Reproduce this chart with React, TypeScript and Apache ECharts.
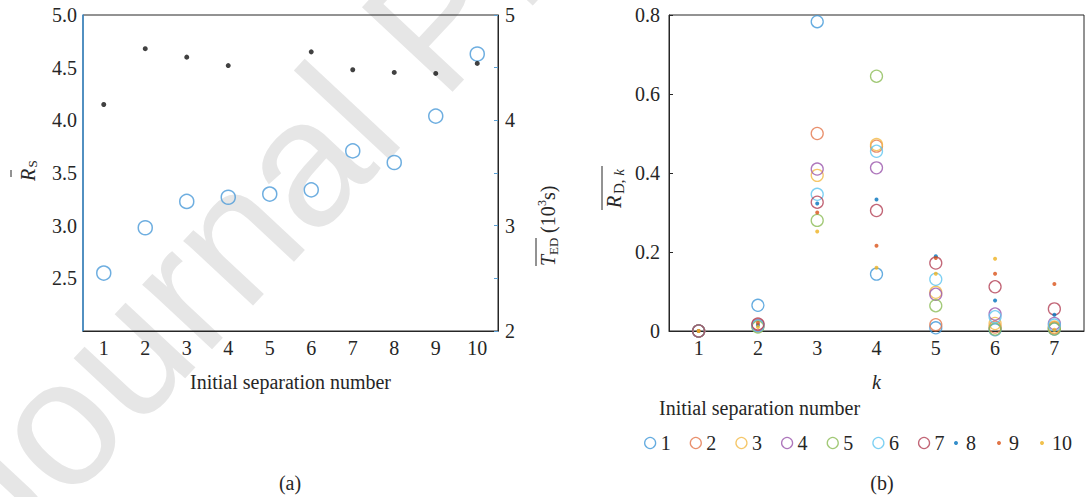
import React, { useEffect, useRef } from 'react';
import * as echarts from 'echarts';

const FONT = "'Liberation Serif', 'Times New Roman', serif";
const TXT = '#262626';

// Panel (a)
const sepNumbers = ['1', '2', '3', '4', '5', '6', '7', '8', '9', '10'];
const meanRS = [2.55, 2.98, 3.23, 3.27, 3.3, 3.34, 3.71, 3.6, 4.04, 4.63];
const meanTED = [4.15, 4.68, 4.6, 4.52, null, 4.65, 4.48, 4.455, 4.445, 4.54];
const rsTicks = [2.0, 2.5, 3.0, 3.5, 4.0, 4.5, 5.0];

// Panel (b)
const kLabels = ['1', '2', '3', '4', '5', '6', '7'];
const rdk1 = [0, 0.065, 0.783, 0.144, 0.008, 0.003, 0.005];
const rdk2 = [0, 0.016, 0.5, 0.468, 0.016, 0.01, 0.008];
const rdk3 = [0, 0.012, 0.394, 0.472, 0.098, 0.019, 0.01];
const rdk4 = [0, 0.014, 0.41, 0.413, 0.093, 0.043, 0.019];
const rdk5 = [0, 0.01, 0.28, 0.645, 0.064, 0.005, 0.005];
const rdk6 = [0, 0.013, 0.346, 0.455, 0.131, 0.036, 0.015];
const rdk7 = [0, 0.018, 0.326, 0.305, 0.172, 0.112, 0.056];
const rdk8 = [0, 0.015, 0.323, 0.333, 0.189, 0.077, 0.041];
const rdk9 = [0, 0.02, 0.3, 0.216, 0.185, 0.145, 0.119];
const rdk10 = [0, 0.01, 0.252, 0.16, 0.145, 0.183, 0.003];
const rdkAll = [rdk1, rdk2, rdk3, rdk4, rdk5, rdk6, rdk7, rdk8, rdk9, rdk10];
const separationNames = ['1', '2', '3', '4', '5', '6', '7', '8', '9', '10'];
const separationColors = [
  '#3f97d8', '#e4754a', '#f2b945', '#9a55ab', '#8bbb55',
  '#5cc4f0', '#b34055', '#0072BD', '#D95319', '#EDB120',
];

export default function App() {
  const ref = useRef<HTMLDivElement>(null);
  useEffect(() => {
    const chart = echarts.init(ref.current!, null, { renderer: 'svg' });
    const labelStyle = { fontSize: 20, color: TXT, fontFamily: FONT };
    const isRing = (i: number) => i < 7;
    const wmAngle = (47 * Math.PI) / 180;

    const option: any = {
      animation: false,
      backgroundColor: '#fff',
      textStyle: { fontFamily: FONT },
      grid: [
        { left: 83, top: 15, width: 415, height: 316, show: true, borderColor: TXT, borderWidth: 1, backgroundColor: 'transparent' },
        { left: 669, top: 15, width: 415, height: 316, show: true, borderColor: TXT, borderWidth: 1, backgroundColor: 'transparent' },
      ],
      xAxis: [
        {
          type: 'category', gridIndex: 0, data: sepNumbers, boundaryGap: true,
          axisLine: { lineStyle: { color: TXT, width: 1 } },
          axisTick: { inside: true, alignWithLabel: true, length: 4, lineStyle: { color: TXT } },
          axisLabel: { ...labelStyle, margin: 7 },
          name: 'Initial separation number', nameLocation: 'middle', nameGap: 41,
          nameTextStyle: { ...labelStyle },
        },
        {
          type: 'category', gridIndex: 1, data: kLabels, boundaryGap: true,
          axisLine: { lineStyle: { color: TXT, width: 1 } },
          axisTick: { inside: true, alignWithLabel: true, length: 4, lineStyle: { color: TXT } },
          axisLabel: { ...labelStyle, margin: 7 },
          name: 'k', nameLocation: 'middle', nameGap: 41,
          nameTextStyle: { ...labelStyle, fontStyle: 'italic' },
        },
      ],
      yAxis: [
        {
          type: 'value', gridIndex: 0, position: 'left', min: rsTicks[0], max: rsTicks[rsTicks.length - 1], interval: 0.5,
          axisLine: { show: true, lineStyle: { color: '#3d8fd1', width: 1.5 } },
          axisTick: { show: false }, splitLine: { show: false },
          axisLabel: { ...labelStyle, margin: 6, formatter: (v: number) => (v === rsTicks[0] ? '' : v.toFixed(1)) },
        },
        {
          type: 'value', gridIndex: 0, position: 'right', min: 2, max: 5, interval: 0.5,
          axisLine: { show: true, lineStyle: { color: TXT, width: 1 } },
          axisTick: { show: true, inside: true, length: 4, lineStyle: { color: '#5a9fd4' } },
          splitLine: { show: false },
          axisLabel: { ...labelStyle, margin: 7, formatter: (v: number) => (Number.isInteger(v) ? String(v) : '') },
        },
        {
          type: 'value', gridIndex: 1, min: 0, max: 0.8, interval: 0.2,
          axisLine: { show: true, lineStyle: { color: TXT, width: 1 } },
          axisTick: { show: true, inside: true, length: 4, lineStyle: { color: TXT } },
          splitLine: { show: false },
          axisLabel: { ...labelStyle, margin: 9, formatter: (v: number) => (v === 0 ? '0' : v.toFixed(1)) },
        },
      ],
      legend: [
        {
          data: separationNames.slice(0, 7).map((n, i) => ({
            name: n, icon: 'circle',
            itemStyle: { color: 'transparent', borderColor: separationColors[i], borderWidth: 1.3 },
          })),
          left: 644, top: 433, padding: 0, itemWidth: 11, itemHeight: 11, itemGap: 19,
          textStyle: { ...labelStyle }, selectedMode: false,
        },
        {
          data: separationNames.slice(7).map((n, i) => ({
            name: n, icon: 'circle', itemStyle: { color: separationColors[i + 7] },
          })),
          left: 954, top: 433, padding: 0, itemWidth: 10, itemHeight: 4, itemGap: 21, symbolKeepAspect: true,
          textStyle: { ...labelStyle }, selectedMode: false,
        },
      ],
      series: [
        {
          type: 'scatter', name: 'RS', xAxisIndex: 0, yAxisIndex: 0, data: meanRS,
          symbol: 'circle', symbolSize: 14,
          itemStyle: { color: 'transparent', borderColor: '#4a9ad8', borderWidth: 1.5 },
        },
        {
          type: 'scatter', name: 'TED', xAxisIndex: 0, yAxisIndex: 1,
          data: meanTED.map((v) => (v === null ? '-' : v)),
          symbol: 'circle', symbolSize: 5, itemStyle: { color: '#111' },
        },
        ...rdkAll.map((d, i) => ({
          type: 'scatter', name: separationNames[i], xAxisIndex: 1, yAxisIndex: 2, data: d,
          symbol: 'circle', symbolSize: isRing(i) ? 12 : 4,
          itemStyle: isRing(i)
            ? { color: 'transparent', borderColor: separationColors[i], borderWidth: 1.3 }
            : { color: separationColors[i] },
        })),
      ],
      graphic: [
        {
          type: 'text', x: -40, y: 528, rotation: wmAngle, z: -10, silent: true,
          style: { text: 'Journal Pre-proof', fontSize: 180, fontFamily: "'Liberation Sans', Arial, sans-serif", fill: '#e6e6e6', textAlign: 'left', textVerticalAlign: 'middle' },
        },
        // left axis name: R-bar with subscript S
        {
          type: 'group', x: 28, y: 175, rotation: Math.PI / 2,
          children: [
            { type: 'text', x: 0, y: 0, style: { text: 'R', fontSize: 20, fontStyle: 'italic', fontFamily: FONT, fill: TXT, textAlign: 'center', textVerticalAlign: 'middle' } },
            { type: 'text', x: 11, y: 4, style: { text: 'S', fontSize: 13, fontFamily: FONT, fill: TXT, textAlign: 'center', textVerticalAlign: 'middle' } },
            { type: 'line', shape: { x1: -2, y1: -17, x2: 5, y2: -17 }, style: { stroke: TXT, lineWidth: 1 } },
          ],
        },
        // right axis name of panel (a)
        {
          type: 'group', x: 548, y: 226, rotation: Math.PI / 2,
          children: [
            { type: 'text', x: -40, y: 0, style: { text: 'T', fontSize: 20, fontStyle: 'italic', fontFamily: FONT, fill: TXT, textAlign: 'left', textVerticalAlign: 'middle' } },
            { type: 'text', x: -29, y: 5, style: { text: 'ED', fontSize: 13, fontFamily: FONT, fill: TXT, textAlign: 'left', textVerticalAlign: 'middle' } },
            { type: 'text', x: -7, y: 0, style: { text: '(10', fontSize: 20, fontFamily: FONT, fill: TXT, textAlign: 'left', textVerticalAlign: 'middle' } },
            { type: 'text', x: 20, y: -6, style: { text: '3', fontSize: 12, fontFamily: FONT, fill: TXT, textAlign: 'left', textVerticalAlign: 'middle' } },
            { type: 'text', x: 26, y: 0, style: { text: 's)', fontSize: 20, fontFamily: FONT, fill: TXT, textAlign: 'left', textVerticalAlign: 'middle' } },
            { type: 'line', shape: { x1: -40, y1: -12, x2: -12, y2: -12 }, style: { stroke: TXT, lineWidth: 1 } },
          ],
        },
        // y axis name of panel (b)
        {
          type: 'group', x: 614, y: 180, rotation: Math.PI / 2,
          children: [
            { type: 'text', x: -28, y: 0, style: { text: 'R', fontSize: 20, fontStyle: 'italic', fontFamily: FONT, fill: TXT, textAlign: 'left', textVerticalAlign: 'middle' } },
            {
              type: 'text', x: -14, y: 5,
              style: {
                text: '{d|D, }{k|k}', fontSize: 15, fontFamily: FONT, fill: TXT, textAlign: 'left', textVerticalAlign: 'middle',
                rich: { d: { fontSize: 15, fontFamily: FONT, fill: TXT }, k: { fontSize: 15, fontFamily: FONT, fontStyle: 'italic', fill: TXT } },
              },
            },
            { type: 'line', shape: { x1: -30, y1: -12, x2: 14, y2: -12 }, style: { stroke: TXT, lineWidth: 1 } },
          ],
        },
        {
          type: 'text', left: 659, top: 398,
          style: { text: 'Initial separation number', fontSize: 20, fontFamily: FONT, fill: TXT },
        },
        {
          type: 'text', x: 290, y: 483,
          style: { text: '(a)', fontSize: 20, fontFamily: FONT, fill: TXT, textAlign: 'center', textVerticalAlign: 'middle' },
        },
        {
          type: 'text', x: 882, y: 483,
          style: { text: '(b)', fontSize: 20, fontFamily: FONT, fill: TXT, textAlign: 'center', textVerticalAlign: 'middle' },
        },
      ],
    };
    chart.setOption(option);
    return () => chart.dispose();
  }, []);
  return (
    <div
      ref={ref}
      style={{ position: 'absolute', left: 0, top: 0, width: 1087, height: 497, background: '#fff' }}
    />
  );
}
